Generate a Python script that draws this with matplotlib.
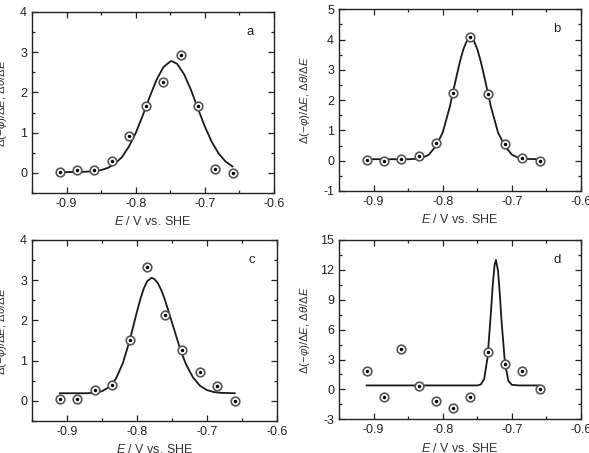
import matplotlib
matplotlib.use("Agg")
import matplotlib.pyplot as plt
from matplotlib.ticker import MultipleLocator

plt.rcParams['font.family'] = ['Liberation Sans', 'DejaVu Sans']
plt.rcParams['mathtext.fontset'] = 'custom'
plt.rcParams['mathtext.rm'] = 'Liberation Sans'
plt.rcParams['mathtext.it'] = 'Liberation Sans:italic'
plt.rcParams['mathtext.sf'] = 'Liberation Sans'

# ---- data ----
E_pts = [-0.91, -0.885, -0.86, -0.835, -0.81, -0.785, -0.76, -0.735, -0.71, -0.685, -0.66]

a_pts = [0.02, 0.06, 0.07, 0.29, 0.92, 1.67, 2.26, 2.94, 1.67, 0.09, -0.01]
a_fit_x = [-0.91, -0.88, -0.86, -0.85, -0.84, -0.83, -0.82, -0.81, -0.80, -0.79, -0.78,
           -0.77, -0.76, -0.75, -0.748, -0.74, -0.73, -0.72, -0.71, -0.70, -0.69, -0.68,
           -0.67, -0.66]
a_fit_y = [0.02, 0.023, 0.042, 0.07, 0.125, 0.23, 0.39, 0.65, 0.99, 1.42, 1.88,
           2.31, 2.63, 2.77, 2.78, 2.71, 2.45, 2.06, 1.60, 1.15, 0.77, 0.48,
           0.28, 0.16]

b_pts = [0.02, 0.0, 0.05, 0.15, 0.6, 2.24, 4.07, 2.19, 0.54, 0.08, 0.0]
b_fit_x = [-0.91, -0.85, -0.84, -0.83, -0.82, -0.81, -0.80, -0.79, -0.78, -0.775,
           -0.77, -0.765, -0.76, -0.755, -0.75, -0.745, -0.74, -0.73, -0.72, -0.71,
           -0.70, -0.69, -0.68, -0.66]
b_fit_y = [0.05, 0.05, 0.06, 0.09, 0.20, 0.48, 0.93, 1.76, 2.79, 3.28,
           3.69, 3.96, 4.05, 3.96, 3.69, 3.28, 2.79, 1.76, 0.93, 0.48,
           0.20, 0.09, 0.06, 0.05]

c_pts = [0.04, 0.04, 0.26, 0.39, 1.51, 3.32, 2.13, 1.27, 0.72, 0.37, 0.0]
c_fit_x = [-0.91, -0.87, -0.86, -0.85, -0.84, -0.83, -0.82, -0.81, -0.80, -0.795,
           -0.79, -0.785, -0.779, -0.775, -0.77, -0.765, -0.76, -0.75, -0.74, -0.735,
           -0.73, -0.72, -0.71, -0.70, -0.69, -0.68, -0.66]
c_fit_y = [0.19, 0.19, 0.21, 0.24, 0.34, 0.55, 0.94, 1.52, 2.21, 2.53,
           2.80, 2.98, 3.06, 3.03, 2.93, 2.75, 2.52, 1.96, 1.40, 1.15,
           0.92, 0.59, 0.38, 0.27, 0.22, 0.20, 0.19]

d_pts = [1.87, -0.77, 4.07, 0.37, -1.13, -1.83, -0.73, 3.73, 2.6, 1.87, 0.0]
d_fit_x = [-0.91, -0.75, -0.745, -0.74, -0.735, -0.73, -0.7275, -0.725, -0.723,
           -0.72, -0.7175, -0.715, -0.71, -0.705, -0.70, -0.69, -0.66]
d_fit_y = [0.4, 0.4, 0.49, 1.06, 3.3, 8.0, 10.6, 12.5, 13.0,
           11.9, 9.65, 6.96, 2.65, 0.86, 0.46, 0.4, 0.4]

panels = [
    dict(label='a', pts=a_pts, fx=a_fit_x, fy=a_fit_y, ylim=(-0.5, 4), major=1, minor=0.5,
         rect=(32, 12, 274, 193), ylx=-0.093),
    dict(label='b', pts=b_pts, fx=b_fit_x, fy=b_fit_y, ylim=(-1, 5), major=1, minor=0.5,
         rect=(339, 9.3, 581, 191), ylx=-0.112),
    dict(label='c', pts=c_pts, fx=c_fit_x, fy=c_fit_y, ylim=(-0.5, 4), major=1, minor=0.5,
         rect=(32, 240, 276.7, 421), ylx=-0.093),
    dict(label='d', pts=d_pts, fx=d_fit_x, fy=d_fit_y, ylim=(-3, 15), major=3, minor=1.5,
         rect=(339, 240, 581, 419.3), ylx=-0.112),
]

W, H = 589, 453
fig = plt.figure(figsize=(W / 100, H / 100), dpi=100)

for p in panels:
    l, t, r, b = p['rect']
    ax = fig.add_axes([l / W, 1 - b / H, (r - l) / W, (b - t) / H])
    ax.plot(p['fx'], p['fy'], color='#1a1a1a', lw=1.3, zorder=2)
    ax.plot(E_pts, p['pts'], ls='none', marker='o', ms=6.2, mfc='white',
            mec='#555555', mew=1.2, zorder=3)
    ax.plot(E_pts, p['pts'], ls='none', marker='o', ms=2.5, mfc='black',
            mec='black', mew=0, zorder=4)
    ax.set_xlim(-0.95, -0.6)
    ax.set_ylim(*p['ylim'])
    ax.xaxis.set_major_locator(MultipleLocator(0.1))
    ax.xaxis.set_minor_locator(MultipleLocator(0.05))
    ax.yaxis.set_major_locator(MultipleLocator(p['major']))
    ax.yaxis.set_minor_locator(MultipleLocator(p['minor']))
    ax.xaxis.set_major_formatter(matplotlib.ticker.FuncFormatter(lambda v, _: f"{v:g}"))
    ax.yaxis.set_major_formatter(matplotlib.ticker.FuncFormatter(lambda v, _: f"{v:g}"))
    ax.tick_params(which='both', direction='in', top=True, right=True,
                   labelsize=9, colors='#222222', width=0.9)
    ax.tick_params(which='major', length=4)
    ax.tick_params(which='minor', length=2)
    for s in ax.spines.values():
        s.set_linewidth(1.0)
        s.set_color('#222222')
    ax.set_xlabel(r'$\mathit{E}$ / V vs. SHE', fontsize=9, color='#333333', labelpad=4)
    ax.set_ylabel(r'$\Delta(-\varphi)/\Delta \mathit{E}$, $\Delta\theta/\Delta \mathit{E}$',
                  fontsize=8.2, color='#333333')
    ax.yaxis.set_label_coords(p['ylx'], 0.5)
    ax.text(0.9, 0.89, p['label'], transform=ax.transAxes, fontsize=9.5,
            ha='center', va='center', color='#222222')

fig.savefig('out.png', dpi=100)
